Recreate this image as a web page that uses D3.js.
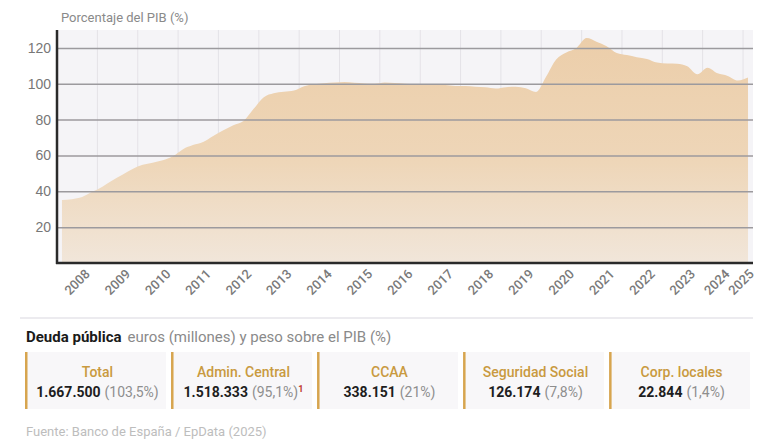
<!DOCTYPE html>
<html>
<head>
<meta charset="utf-8">
<script src="https://cdn.jsdelivr.net/npm/d3@7"></script>
<style>
  body { margin: 0; background: #fff; }
  svg { display: block; font-family: Roboto, "Noto Sans", sans-serif; }
</style>
</head>
<body>
<svg width="780" height="440"></svg>
<script>
// trimestres y deuda (% del PIB)
var periodos = [
  "2008-T1", "2008-T2", "2008-T3", "2008-T4",
  "2009-T1", "2009-T2", "2009-T3", "2009-T4",
  "2010-T1", "2010-T2", "2010-T3", "2010-T4",
  "2011-T1", "2011-T2", "2011-T3", "2011-T4",
  "2012-T1", "2012-T2", "2012-T3", "2012-T4",
  "2013-T1", "2013-T2", "2013-T3", "2013-T4",
  "2014-T1", "2014-T2", "2014-T3", "2014-T4",
  "2015-T1", "2015-T2", "2015-T3", "2015-T4",
  "2016-T1", "2016-T2", "2016-T3", "2016-T4",
  "2017-T1", "2017-T2", "2017-T3", "2017-T4",
  "2018-T1", "2018-T2", "2018-T3", "2018-T4",
  "2019-T1", "2019-T2", "2019-T3", "2019-T4",
  "2020-T1", "2020-T2", "2020-T3", "2020-T4",
  "2021-T1", "2021-T2", "2021-T3", "2021-T4",
  "2022-T1", "2022-T2", "2022-T3", "2022-T4",
  "2023-T1", "2023-T2", "2023-T3", "2023-T4",
  "2024-T1", "2024-T2", "2024-T3", "2024-T4",
  "2025-T1"
];
var deudaPIB = [
  35.2, 35.6, 36.8, 39.7,
  42.6, 46.0, 49.2, 52.5,
  54.8, 56.0, 57.3, 59.5,
  63.5, 65.8, 67.5, 70.8,
  74.0, 76.8, 79.2, 86.0,
  92.5, 94.7, 95.5, 96.2,
  98.6, 99.7, 100.3, 100.7,
  101.0, 100.5, 100.2, 100.0,
  100.7, 100.4, 100.0, 99.7,
  99.8, 99.5, 99.3, 98.8,
  98.7, 98.4, 98.0, 97.3,
  98.1, 98.4, 97.5, 95.4,
  104.0, 113.5, 117.5, 120.0,
  125.5, 123.5, 121.0, 117.2,
  116.0, 114.8, 113.8, 111.8,
  111.3, 111.2, 109.8, 105.3,
  109.0, 105.8, 104.4, 101.8,
  103.5
];
var anios = [2008, 2009, 2010, 2011, 2012, 2013, 2014, 2015, 2016, 2017,
             2018, 2019, 2020, 2021, 2022, 2023, 2024, 2025];
var yTicks = [20, 40, 60, 80, 100, 120];

// tarjetas de la parte inferior
var subsectores = ["Total", "Admin. Central", "CCAA", "Seguridad Social", "Corp. locales"];
var importes = ["1.667.500", "1.518.333", "338.151", "126.174", "22.844"];
var pesos = ["(103,5%)", "(95,1%)", "(21%)", "(7,8%)", "(1,4%)"];
var notas = ["", "1", "", "", ""];

var svg = d3.select("svg");
var plot = {left: 57, right: 753, top: 30, bottom: 263};

function parsePeriodo(p) {
  var year = +p.slice(0, 4), q = +p.slice(6);
  return new Date(year, (q - 1) * 3 + 1, 15);
}

var data = periodos.map(function(p, i) { return {date: parsePeriodo(p), value: deudaPIB[i]}; });

var x = d3.scaleTime()
    .domain([new Date(2008, 0, 1), new Date(2025, 3, 1)])
    .range([plot.left, plot.right]);

var y = d3.scaleLinear()
    .domain([0, 130])
    .range([plot.bottom, plot.top]);

/* fondo del grafico */
svg.append("rect")
    .attr("x", plot.left)
    .attr("y", plot.top)
    .attr("width", plot.right - plot.left)
    .attr("height", plot.bottom - plot.top)
    .attr("fill", "#f5f4f7");

/* lineas verticales por año */
svg.append("g")
  .selectAll("line")
  .data(anios.slice(1))
  .enter().append("line")
    .attr("x1", function(d) { return x(new Date(d, 0, 1)); })
    .attr("x2", function(d) { return x(new Date(d, 0, 1)); })
    .attr("y1", plot.top)
    .attr("y2", plot.bottom)
    .attr("stroke", "#e4e2e7")
    .attr("stroke-width", 1);

/* degradado del area */
var grad = svg.append("defs").append("linearGradient")
    .attr("id", "relleno")
    .attr("x1", 0).attr("y1", 0).attr("x2", 0).attr("y2", 1);
grad.append("stop").attr("offset", "0%").attr("stop-color", "#ecceaa");
grad.append("stop").attr("offset", "55%").attr("stop-color", "#eed6b8");
grad.append("stop").attr("offset", "100%").attr("stop-color", "#f1e6da");

var area = d3.area()
    .x(function(d) { return x(d.date); })
    .y0(y(0))
    .y1(function(d) { return y(d.value); })
    .curve(d3.curveMonotoneX);

svg.append("path")
    .datum(data)
    .attr("d", area)
    .attr("fill", "url(#relleno)");

/* rejilla horizontal y etiquetas del eje y */
var yAxis = svg.append("g")
    .attr("transform", "translate(" + plot.left + ",0)")
    .call(d3.axisLeft(y).tickValues(yTicks).tickSize(-(plot.right - plot.left)).tickPadding(6));
yAxis.select(".domain").remove();
yAxis.selectAll(".tick line")
    .attr("stroke", "#9c9a9e")
    .attr("stroke-width", 1.5);
yAxis.selectAll(".tick text")
    .attr("fill", "#777")
    .attr("font-size", 14);

/* ejes */
svg.append("line")
    .attr("x1", plot.left).attr("x2", plot.left)
    .attr("y1", plot.top).attr("y2", plot.bottom + 1)
    .attr("stroke", "#2a2a2a").attr("stroke-width", 2.5);
svg.append("line")
    .attr("x1", plot.left - 1).attr("x2", plot.right)
    .attr("y1", plot.bottom).attr("y2", plot.bottom)
    .attr("stroke", "#2a2a2a").attr("stroke-width", 2.5);

/* etiquetas de años, giradas */
var xEnd = x(data[data.length - 1].date);
svg.append("g")
  .selectAll("text")
  .data(anios)
  .enter().append("text")
    .attr("transform", function(d) {
      var cx = Math.min(x(new Date(d, 6, 1)), xEnd - 7);
      if (d === 2024) cx -= 6;
      return "translate(" + cx + "," + (plot.bottom + 19) + ") rotate(-45)";
    })
    .attr("text-anchor", "middle")
    .attr("dy", "0.35em")
    .attr("fill", "#7a7a7a")
    .attr("font-size", 13)
    .attr("font-weight", 500)
    .text(function(d) { return d; });

svg.append("text")
    .attr("x", 61)
    .attr("y", 22)
    .attr("fill", "#8a8a8a")
    .attr("font-size", 13)
    .text("Porcentaje del PIB (%)");

/* separador y titulo inferior */
svg.append("line")
    .attr("x1", 20).attr("x2", 753)
    .attr("y1", 318).attr("y2", 318)
    .attr("stroke", "#e6e5ea").attr("stroke-width", 1.5);

var titulo = svg.append("text")
    .attr("x", 26)
    .attr("y", 342)
    .attr("font-size", 15);
titulo.append("tspan")
    .attr("font-weight", 700)
    .attr("fill", "#1a1a1a")
    .text("Deuda pública");
titulo.append("tspan")
    .attr("dx", 6)
    .attr("fill", "#8a8a8a")
    .text("euros (millones) y peso sobre el PIB (%)");

/* tarjetas */
var card = d3.scaleBand()
    .domain(subsectores)
    .range([25, 750])
    .paddingInner(0.035);

var cards = svg.append("g")
  .selectAll("g")
  .data(subsectores)
  .enter().append("g")
    .attr("transform", function(d) { return "translate(" + card(d) + ",352)"; });

cards.append("rect")
    .attr("width", card.bandwidth())
    .attr("height", 57)
    .attr("fill", "#f8f7f9");

cards.append("rect")
    .attr("width", 2.5)
    .attr("height", 57)
    .attr("fill", "#d7a54f");

cards.append("text")
    .attr("x", card.bandwidth() / 2 + 2)
    .attr("y", 25)
    .attr("text-anchor", "middle")
    .attr("font-size", 14)
    .attr("font-weight", 500)
    .attr("fill", "#c99a40")
    .text(function(d) { return d; });

var valores = cards.append("text")
    .attr("x", card.bandwidth() / 2 + 2)
    .attr("y", 45)
    .attr("text-anchor", "middle")
    .attr("font-size", 14);
valores.append("tspan")
    .attr("font-weight", 700)
    .attr("fill", "#1e1e1e")
    .text(function(d, i) { return importes[i]; });
valores.append("tspan")
    .attr("dx", 4)
    .attr("fill", "#8e8e8e")
    .text(function(d, i) { return pesos[i]; });
valores.append("tspan")
    .attr("dy", -5)
    .attr("font-size", 9)
    .attr("font-weight", 700)
    .attr("fill", "#c0392b")
    .text(function(d, i) { return notas[i]; });

svg.append("text")
    .attr("x", 26)
    .attr("y", 436)
    .attr("fill", "#bdbdbd")
    .attr("font-size", 13)
    .text("Fuente: Banco de España / EpData (2025)");
</script>
</body>
</html>
